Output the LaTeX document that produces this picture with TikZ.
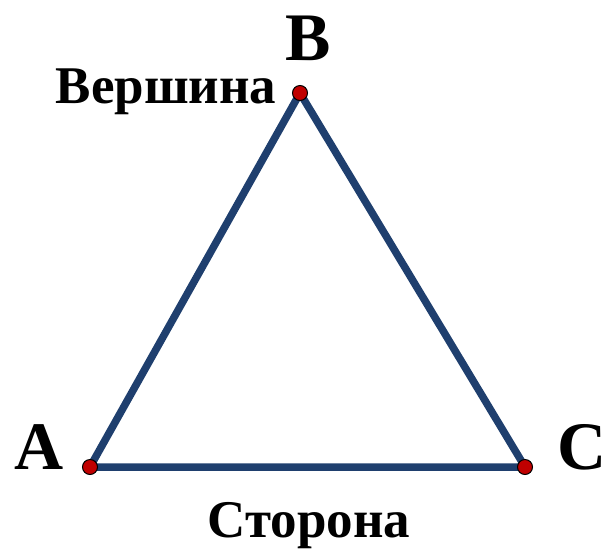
\documentclass[tikz,border=0pt]{standalone}
\usepackage{fontspec}
\setmainfont{Liberation Serif}
\definecolor{side}{HTML}{1F3F6E}
\definecolor{dotred}{HTML}{C00000}
\begin{document}
\begin{tikzpicture}[x=1pt,y=-1pt,
  sideline/.style={draw=side,line width=7.5pt,line cap=round,line join=round},
  vdot/.style={circle,fill=dotred,draw=black,line width=1pt,inner sep=0pt,minimum size=15pt},
  biglabel/.style={font=\fontsize{68}{68}\selectfont\bfseries,inner sep=0pt},
  wordlabel/.style={font=\fontsize{53}{53}\selectfont\bfseries,inner sep=0pt}]
\useasboundingbox (0,0) rectangle (608,550);
\coordinate (A) at (90,467);
\coordinate (B) at (300,93);
\coordinate (C) at (525,467);
\draw[sideline] (A) -- (B) -- (C) -- cycle;
\node[vdot] (dA) at (A) {};
\node[vdot] (dB) at (B) {};
\node[vdot] (dC) at (C) {};
\node[biglabel,anchor=base] (lB) at (308,60) {B};
\node[biglabel,anchor=base] (lA) at (39,469) {A};
\node[biglabel,anchor=base] (lC) at (582,469) {C};
\node[wordlabel,anchor=base] (w1) at (166,103) {Вершина};
\node[wordlabel,anchor=base] (w2) at (309,537) {Сторона};
\end{tikzpicture}
\end{document}
